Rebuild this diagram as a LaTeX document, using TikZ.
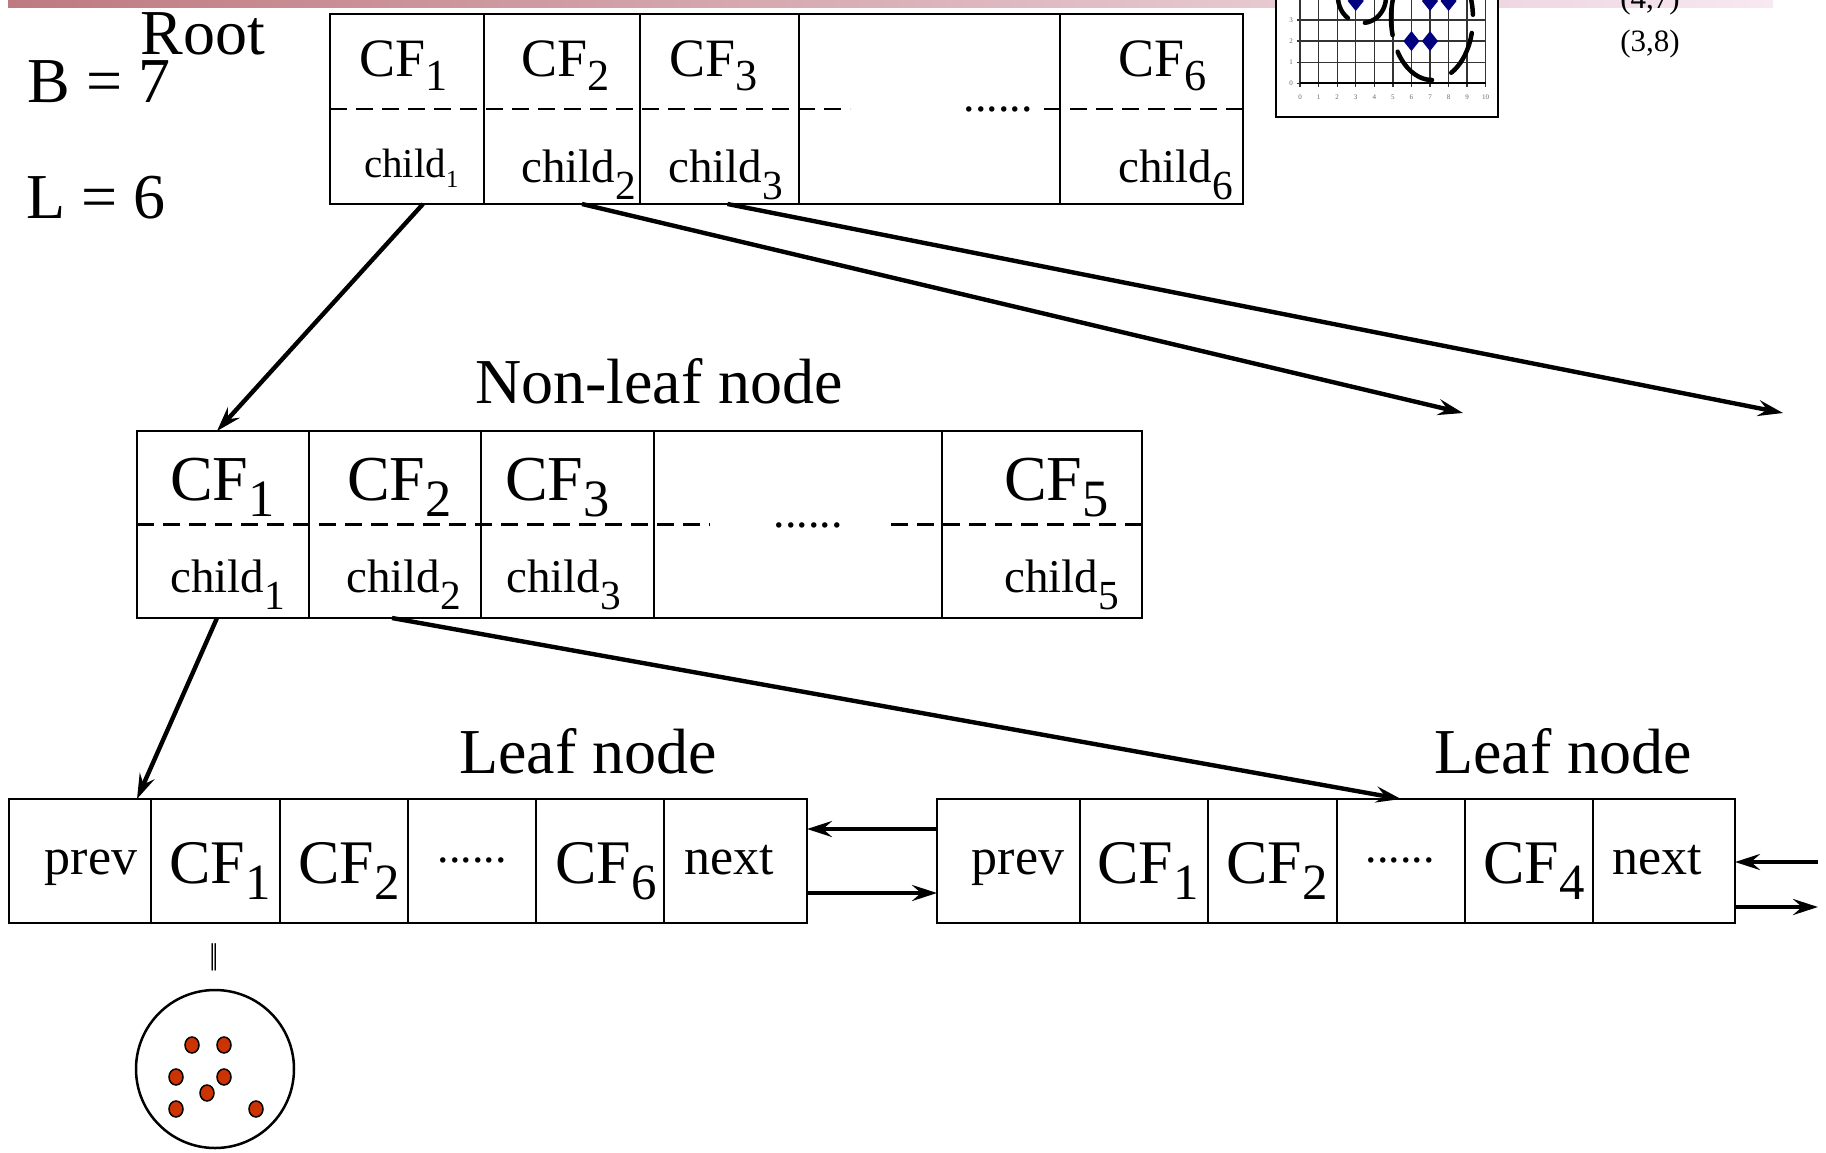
\documentclass[tikz,border=0pt]{standalone}
\usepackage{fontspec}
\setmainfont{Liberation Serif}
\usetikzlibrary{positioning,arrows.meta,calc}

\definecolor{barleft}{RGB}{190,122,128}
\definecolor{barright}{RGB}{247,232,242}
\definecolor{dotred}{RGB}{204,51,0}
\definecolor{ptblue}{RGB}{0,0,128}

\newcommand{\fsz}[1]{\fontsize{#1}{#1}\selectfont}
\newcommand{\sbx}[2][.82]{\raisebox{-.26em}{\scalebox{#1}{#2}}}
\newcommand{\sbl}[1]{\raisebox{-.38em}{\scalebox{.88}{#1}}}

\tikzset{
  cell/.style={draw, rectangle, line width=2.5pt, inner sep=0pt, outer sep=0pt},
  rootcell/.style={cell, minimum height=190pt},
  nlcell/.style={cell, minimum height=187pt},
  leafcell/.style={cell, minimum height=124pt},
  sep/.style={line width=2.6pt, dash pattern=on 17pt off 9pt},
  link/.style={-{Stealth[length=25pt,width=16pt,inset=9pt]}, line width=4.4pt},
  lbltxt/.style={font=\fsz{64}, inner sep=0pt, anchor=base},
  rootcf/.style={font=\fsz{54}, inner sep=0pt, anchor=base west},
  rootch/.style={font=\fsz{47}, inner sep=0pt, anchor=base west},
  nlcf/.style={font=\fsz{64}, inner sep=0pt, anchor=base west},
  nlch/.style={font=\fsz{47}, inner sep=0pt, anchor=base west},
  leafcf/.style={font=\fsz{62}, inner sep=0pt, anchor=base},
  leafwd/.style={font=\fsz{52}, inner sep=0pt, anchor=base},
  dotstxt/.style={font=\fsz{46}, inner sep=0pt, anchor=base},
  ticktxt/.style={font=\fsz{7}, text=black!60, inner sep=0pt},
  pairtxt/.style={font=\fsz{31}, inner sep=0pt, anchor=base},
  gridln/.style={line width=1.3pt, black!80},
  curve/.style={line width=4.5pt, line cap=round}
}

\begin{document}
\begin{tikzpicture}[x=1pt, y=-1pt]
\useasboundingbox (0,0) rectangle (1826,1152);
\fill[white] (0,0) rectangle (1826,1152);
\shade[left color=barleft, right color=barright] (8,0) rectangle (1773,7);

\begin{scope}
  \clip (1270,0) rectangle (1510,130);
  \filldraw[fill=white, line width=2pt] (1276,-40) rectangle (1498,117);
  \foreach \i in {0,...,10} {
    \draw[gridln] ({1300+18.57*\i},83.3) -- ({1300+18.57*\i},-10);
    \draw[gridln] ({1300+18.57*\i},83.3) -- ({1300+18.57*\i},87);
    \node[ticktxt] (xt\i) at ({1300+18.57*\i},97) {\i};
  }
  \foreach \j in {0,...,4}
    \draw[gridln] (1296.5,{83.3-21.1*\j}) -- (1485.7,{83.3-21.1*\j});
  \foreach \j in {0,...,3}
    \node[ticktxt] (yt\j) at (1291,{83.3-21.1*\j}) {\j};
  \draw[line width=2.2pt] (1300,83.3) -- (1485.7,83.3);
  \foreach \a/\b in {6/2,7/2,3/3.9,7/3.9,8/3.9}
    \fill[ptblue] ({1300+18.57*\a},{83.3-21.1*\b-10}) -- ++(8,10) -- ++(-8,10) -- ++(-8,-10) -- cycle;
  \draw[curve] plot[domain=14:62, samples=20] ({1432+41*cos(\x)},{18+62*sin(\x)});
  \draw[curve] plot[domain=90:147, samples=20] ({1432+41*cos(\x)},{18+62*sin(\x)});
  \draw[curve] plot[domain=164:357, samples=40] ({1432+41*cos(\x)},{18+62*sin(\x)});
  \draw[curve] plot[domain=-40:83, samples=20] ({1362+24*cos(\x)},{-3+26*sin(\x)});
  \draw[curve] plot[domain=126:220, samples=20] ({1362+24*cos(\x)},{-3+26*sin(\x)});
\end{scope}
\node[pairtxt] (p47) at (1650,8) {(4,7)};
\node[pairtxt] (p38) at (1650,51) {(3,8)};

\node[lbltxt] (root) at (203,54) {Root};
\node[lbltxt] (bval) at (99,102) {B = 7};
\node[lbltxt] (lval) at (96,218) {L = 6};

\node[rootcell, minimum width=154pt, anchor=north west] (rc1) at (330,14) {};
\node[rootcell, minimum width=156pt, right=0pt of rc1] (rc2) {};
\node[rootcell, minimum width=159pt, right=0pt of rc2] (rc3) {};
\node[rootcell, minimum width=261pt, right=0pt of rc3] (rc4) {};
\node[rootcell, minimum width=183pt, right=0pt of rc4] (rc6) {};
\draw[sep] (rc1.west) -- ++(520,0);
\draw[sep] (rc6.east) -- ++(-203,0);
\node[dotstxt] (rdots) at (998,111) {......};
\node[rootcf] (rcf1) at (359,76) {CF\sbx{1}};
\node[rootcf] (rcf2) at (521,76) {CF\sbx{2}};
\node[rootcf] (rcf3) at (669,76) {CF\sbx{3}};
\node[rootcf] (rcf6) at (1118,76) {CF\sbx{6}};
\node[rootch, font=\fsz{41}] (rch1) at (364,177) {child\sbx[.6]{1}};
\node[rootch] (rch2) at (521,182) {child\sbl{2}};
\node[rootch] (rch3) at (668,182) {child\sbl{3}};
\node[rootch] (rch6) at (1118,182) {child\sbl{6}};

\node[lbltxt] (nltitle) at (659,403) {Non-leaf node};
\node[nlcell, minimum width=172pt, anchor=north west] (nc1) at (137,431) {};
\node[nlcell, minimum width=172pt, right=0pt of nc1] (nc2) {};
\node[nlcell, minimum width=173pt, right=0pt of nc2] (nc3) {};
\node[nlcell, minimum width=288pt, right=0pt of nc3] (nc4) {};
\node[nlcell, minimum width=200pt, right=0pt of nc4] (nc5) {};
\draw[sep] (nc1.west) -- ++(573,0);
\draw[sep] (nc5.east) -- ++(-254,0);
\node[dotstxt] (ndots) at (808,527) {......};
\node[nlcf] (ncf1) at (170,500) {CF\sbx{1}};
\node[nlcf] (ncf2) at (347,500) {CF\sbx{2}};
\node[nlcf] (ncf3) at (505,500) {CF\sbx{3}};
\node[nlcf] (ncf5) at (1004,500) {CF\sbx{5}};
\node[nlch] (nch1) at (170,592) {child\sbl{1}};
\node[nlch] (nch2) at (346,592) {child\sbl{2}};
\node[nlch] (nch3) at (506,592) {child\sbl{3}};
\node[nlch] (nch5) at (1004,592) {child\sbl{5}};

\node[lbltxt] (leafA) at (588,773) {Leaf node};
\node[leafcell, minimum width=142pt, anchor=north west] (la1) at (9,799) {};
\node[leafcell, minimum width=129pt, right=0pt of la1] (la2) {};
\node[leafcell, minimum width=128pt, right=0pt of la2] (la3) {};
\node[leafcell, minimum width=128pt, right=0pt of la3] (la4) {};
\node[leafcell, minimum width=128pt, right=0pt of la4] (la5) {};
\node[leafcell, minimum width=143pt, right=0pt of la5] (la6) {};
\node[leafwd] (aprev) at (91,874) {prev};
\node[leafcf] (acf1) at (220,883) {CF\sbx{1}};
\node[leafcf] (acf2) at (349,883) {CF\sbx{2}};
\node[dotstxt] (adots) at (472,862) {......};
\node[leafcf] (acf6) at (606,883) {CF\sbx{6}};
\node[leafwd] (anext) at (729,874) {next};

\node[lbltxt] (leafB) at (1563,773) {Leaf node};
\node[leafcell, minimum width=143pt, anchor=north west] (lb1) at (937,799) {};
\node[leafcell, minimum width=128pt, right=0pt of lb1] (lb2) {};
\node[leafcell, minimum width=129pt, right=0pt of lb2] (lb3) {};
\node[leafcell, minimum width=128pt, right=0pt of lb3] (lb4) {};
\node[leafcell, minimum width=128pt, right=0pt of lb4] (lb5) {};
\node[leafcell, minimum width=142pt, right=0pt of lb5] (lb6) {};
\node[leafwd] (bprev) at (1018,874) {prev};
\node[leafcf] (bcf1) at (1148,883) {CF\sbx{1}};
\node[leafcf] (bcf2) at (1277,883) {CF\sbx{2}};
\node[dotstxt] (bdots) at (1400,862) {......};
\node[leafcf] (bcf4) at (1534,883) {CF\sbx{4}};
\node[leafwd] (bnext) at (1657,874) {next};

\node[font=\fsz{30}, inner sep=0pt] (equal) at (214,957) {|\kern-.1em|};
\node[draw, circle, line width=2.5pt, minimum size=158pt, inner sep=0pt] (clus) at (215,1069) {};
\foreach \px/\py in {192/1045,224/1045,176/1077,224/1077,207/1093,176/1109,256/1109}
  \filldraw[fill=dotred, draw=black, line width=1.5pt] (\px,\py) ellipse[x radius=7, y radius=8];

\coordinate (farA) at (1463,413);
\coordinate (farB) at (1783,413);
\coordinate (inR) at (1818,862);
\coordinate (outR) at (1818,907);
\draw[link] ([xshift=16pt]rc1.south) -- ([xshift=-6pt]nc1.north);
\draw[link] ([xshift=20pt]rc2.south) -- (farA);
\draw[link] ([xshift=8pt]rc3.south) -- (farB);
\draw[link] ([xshift=-6pt]nc1.south) -- ([xshift=-14pt]la1.north east);
\draw[link] ([xshift=-3pt]nc2.south) -- (lb4.north);
\draw[link] ([yshift=32pt]lb1.west) -- ([yshift=32pt]la6.east);
\draw[link] ([yshift=-32pt]la6.east) -- ([yshift=-32pt]lb1.west);
\draw[link] (inR) -- (lb6.east |- inR);
\draw[link] (lb6.east |- outR) -- (outR);
\end{tikzpicture}
\end{document}
